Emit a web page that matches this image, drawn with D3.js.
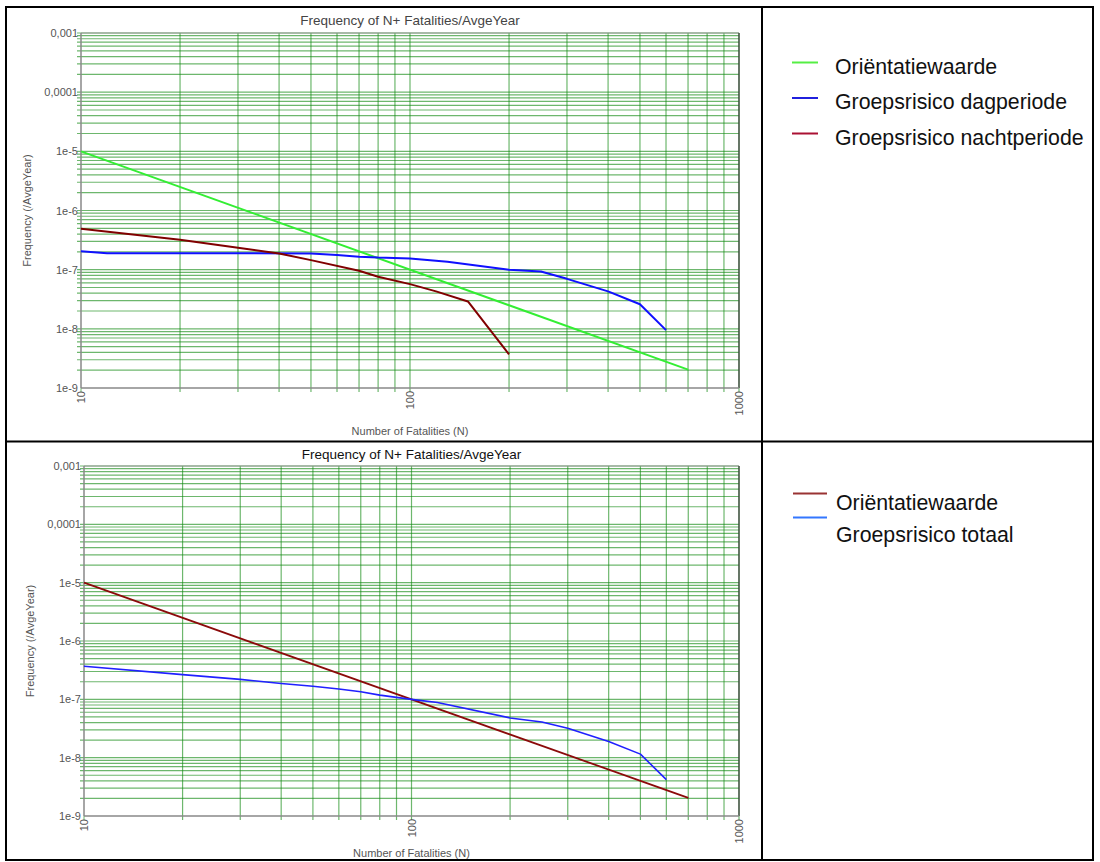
<!DOCTYPE html>
<html>
<head>
<meta charset="utf-8">
<script src="https://cdn.jsdelivr.net/npm/d3@7"></script>
<style>
  html, body { margin: 0; padding: 0; background: #fff; }
  svg { display: block; font-family: "Liberation Sans", Arial, sans-serif; }
</style>
</head>
<body>
<svg id="chart" width="1100" height="862"></svg>
<script>
// ---- Data ----
const chartTitle = "Frequency of N+ Fatalities/AvgeYear";
const xAxisTitle = "Number of Fatalities (N)";
const yAxisTitle = "Frequency (/AvgeYear)";

const yTickValues = [1e-9, 1e-8, 1e-7, 1e-6, 1e-5, 1e-4, 1e-3];
const yTickLabels = ["1e-9", "1e-8", "1e-7", "1e-6", "1e-5", "0,0001", "0,001"];
const xTickValues = [10, 100, 1000];
const xTickLabels = ["10", "100", "1000"];

// Top chart series
const topOrientN = [10, 700];
const topOrientF = [1e-5, 2.04e-9];
const topDagN = [10, 12, 50, 60, 70, 80, 100, 130, 200, 250, 300, 400, 500, 600];
const topDagF = [2.05e-7, 1.9e-7, 1.88e-7, 1.77e-7, 1.66e-7, 1.6e-7, 1.55e-7, 1.36e-7, 1.0e-7, 9.3e-8, 7.0e-8, 4.3e-8, 2.6e-8, 9.5e-9];
const topNachtN = [10, 20, 30, 40, 50, 70, 80, 100, 120, 150, 200];
const topNachtF = [4.9e-7, 3.2e-7, 2.35e-7, 1.88e-7, 1.45e-7, 9.6e-8, 7.6e-8, 5.7e-8, 4.3e-8, 2.9e-8, 3.7e-9];

// Bottom chart series
const botOrientN = [10, 700];
const botOrientF = [1e-5, 2.04e-9];
const botTotaalN = [10, 20, 30, 40, 50, 60, 70, 80, 100, 120, 200, 250, 300, 400, 500, 600];
const botTotaalF = [3.7e-7, 2.65e-7, 2.2e-7, 1.87e-7, 1.68e-7, 1.5e-7, 1.35e-7, 1.18e-7, 1.0e-7, 8.8e-8, 4.8e-8, 4.1e-8, 3.2e-8, 1.9e-8, 1.15e-8, 4.2e-9];

const topLegendLabels = ["Oriëntatiewaarde", "Groepsrisico dagperiode", "Groepsrisico nachtperiode"];
const botLegendLabels = ["Oriëntatiewaarde", "Groepsrisico totaal"];

// ---- Drawing ----
const svg = d3.select("#chart");
svg.append("rect").attr("width", 1100).attr("height", 862).attr("fill", "#fff");

function drawChart(box, series, titleColor) {
  const g = svg.append("g");
  const x = d3.scaleLog().domain([10, 1000]).range([box.x0, box.x1]);
  const y = d3.scaleLog().domain([1e-9, 1e-3]).range([box.y1, box.y0]);

  const yGrid = [];
  for (let e = -9; e < -3; e++) for (let m = 1; m <= 9; m++) yGrid.push(m * Math.pow(10, e));
  yGrid.push(1e-3);
  const xGrid = [];
  for (let e = 1; e < 3; e++) for (let m = 1; m <= 9; m++) xGrid.push(m * Math.pow(10, e));
  xGrid.push(1000);

  const grid = g.append("g").attr("stroke", "#148a14").attr("stroke-opacity", 0.62).attr("stroke-width", 1.2);
  grid.selectAll("line.h").data(yGrid.filter(v => v > 1e-9)).join("line")
    .attr("x1", box.x0 - 4).attr("x2", box.x1)
    .attr("y1", d => y(d)).attr("y2", d => y(d));
  grid.selectAll("line.v").data(xGrid.filter(v => v > 10)).join("line")
    .attr("x1", d => x(d)).attr("x2", d => x(d))
    .attr("y1", box.y0).attr("y2", box.y1 + 4);
  g.append("g").attr("stroke", "#148a14").attr("stroke-opacity", 0.62)
    .selectAll("line").data([10]).join("line")
    .attr("x1", d => x(d)).attr("x2", d => x(d)).attr("y1", box.y1).attr("y2", box.y1 + 4);

  // frame
  g.append("line").attr("x1", box.x0).attr("x2", box.x1).attr("y1", box.y0).attr("y2", box.y0)
    .attr("stroke", "#999").attr("stroke-width", 1);
  g.append("line").attr("x1", box.x1).attr("x2", box.x1).attr("y1", box.y0).attr("y2", box.y1)
    .attr("stroke", "#444").attr("stroke-width", 1.3);
  g.append("line").attr("x1", box.x0).attr("x2", box.x0).attr("y1", box.y0).attr("y2", box.y1)
    .attr("stroke", "#888").attr("stroke-width", 1.5);
  g.append("line").attr("x1", box.x0).attr("x2", box.x1).attr("y1", box.y1).attr("y2", box.y1)
    .attr("stroke", "#888").attr("stroke-width", 1.5);

  // y tick labels
  g.selectAll("text.yt").data(yTickValues).join("text")
    .attr("x", box.x0 - 3).attr("y", d => y(d) + 4)
    .attr("text-anchor", "end").attr("font-size", 11).attr("fill", "#555")
    .text((d, i) => yTickLabels[i]);

  // x tick labels (rotated)
  g.selectAll("text.xt").data(xTickValues).join("text")
    .attr("transform", d => `translate(${x(d) + 4},${box.y1 + 3}) rotate(-90)`)
    .attr("text-anchor", "end").attr("font-size", 11).attr("fill", "#555")
    .text((d, i) => xTickLabels[i]);

  // titles
  g.append("text").attr("x", (box.x0 + box.x1) / 2).attr("y", box.titleY)
    .attr("text-anchor", "middle").attr("font-size", 13.5).attr("fill", titleColor).text(chartTitle);
  g.append("text").attr("x", (box.x0 + box.x1) / 2).attr("y", box.xTitleY)
    .attr("text-anchor", "middle").attr("font-size", 11).attr("fill", "#555").text(xAxisTitle);
  g.append("text")
    .attr("transform", `translate(${box.yTitleX},${(box.y0 + box.y1) / 2}) rotate(-90)`)
    .attr("text-anchor", "middle").attr("font-size", 11).attr("fill", "#555").text(yAxisTitle);

  // series
  const line = d3.line().x(d => x(d[0])).y(d => y(d[1]));
  series.forEach(s => {
    const pts = s.n.map((n, i) => [n, s.f[i]]);
    g.append("path").datum(pts).attr("d", line)
      .attr("fill", "none").attr("stroke", s.color).attr("stroke-width", s.width)
      .attr("stroke-linejoin", "round");
  });
}

drawChart({ x0: 81, x1: 739, y0: 33, y1: 388, titleY: 25, xTitleY: 435, yTitleX: 31 }, [
  { n: topOrientN, f: topOrientF, color: "#33ee33", width: 2 },
  { n: topDagN, f: topDagF, color: "#1010ff", width: 2 },
  { n: topNachtN, f: topNachtF, color: "#800000", width: 2 }
], "#444");

drawChart({ x0: 84, x1: 739, y0: 466, y1: 816, titleY: 459, xTitleY: 857, yTitleX: 34 }, [
  { n: botOrientN, f: botOrientF, color: "#8b0a0a", width: 1.8 },
  { n: botTotaalN, f: botTotaalF, color: "#2020ff", width: 1.6 }
], "#111");

// ---- Table borders ----
const tb = svg.append("g").attr("stroke", "#000").attr("fill", "none");
tb.append("rect").attr("x", 6).attr("y", 7).attr("width", 1087).attr("height", 853).attr("stroke-width", 2);
tb.append("line").attr("x1", 762).attr("x2", 762).attr("y1", 7).attr("y2", 860).attr("stroke-width", 2);
tb.append("line").attr("x1", 6).attr("x2", 1093).attr("y1", 441.5).attr("y2", 441.5).attr("stroke-width", 2);

// ---- Legends ----
const topLegendColors = ["#55ee44", "#2020dd", "#aa1133"];
const topLeg = svg.append("g");
topLegendLabels.forEach((lab, i) => {
  const ly = 62.5 + i * 35.5;
  topLeg.append("line").attr("x1", 792).attr("x2", 818).attr("y1", ly).attr("y2", ly)
    .attr("stroke", topLegendColors[i]).attr("stroke-width", 2);
  topLeg.append("text").attr("x", 835).attr("y", ly + 11).attr("font-size", 21.3).attr("fill", "#111").text(lab);
});

const botLegendColors = ["#993333", "#3377ff"];
const botLeg = svg.append("g");
botLegendLabels.forEach((lab, i) => {
  const ly = 493.5 + i * 24;
  botLeg.append("line").attr("x1", 793).attr("x2", 827).attr("y1", ly).attr("y2", ly)
    .attr("stroke", botLegendColors[i]).attr("stroke-width", 2.2);
  botLeg.append("text").attr("x", 836).attr("y", 510 + i * 32).attr("font-size", 21.3).attr("fill", "#111").text(lab);
});
</script>
</body>
</html>
